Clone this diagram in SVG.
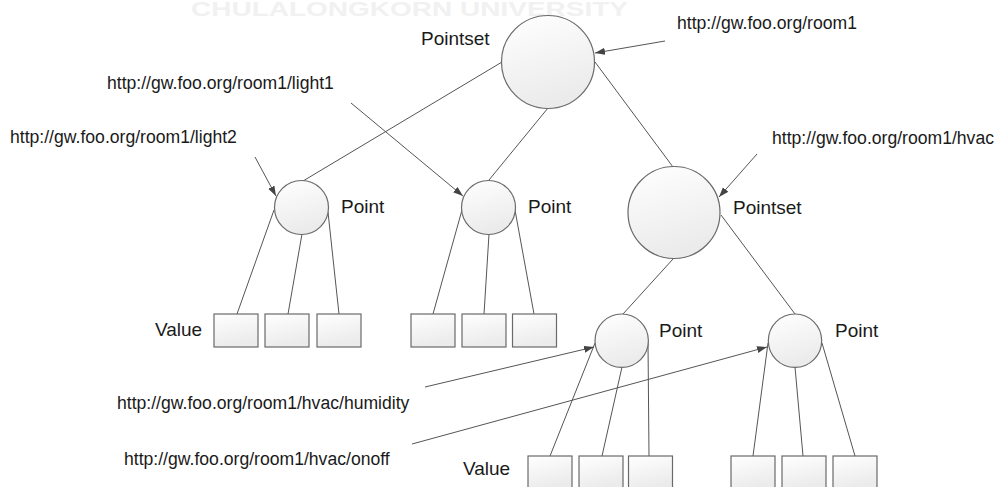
<svg xmlns="http://www.w3.org/2000/svg" width="1004" height="487" viewBox="0 0 1004 487">
<style>
.lbl{font-family:"Liberation Sans",Arial,sans-serif;font-size:19px;fill:#1a1a1a}
.url{font-family:"Liberation Sans",Arial,sans-serif;font-size:17.6px;fill:#1a1a1a}
.wm{font-family:"Liberation Sans",Arial,sans-serif;font-size:20px;font-weight:bold;fill:#f1f1f1}
.node{fill:url(#g);stroke:#6a6a6a;stroke-width:1.2}
.edge{stroke:#555;stroke-width:1;fill:none}
.arr{stroke:#555;stroke-width:1;fill:none;marker-end:url(#ah)}
</style>
<defs>
<linearGradient id="g" x1="0" y1="0" x2="0.3" y2="1">
<stop offset="0" stop-color="#ffffff"/>
<stop offset="1" stop-color="#ebebeb"/>
</linearGradient>
<marker id="ah" markerWidth="11" markerHeight="8" refX="10" refY="3.5" orient="auto" markerUnits="userSpaceOnUse">
<path d="M0,0 L10,3.5 L0,7 z" fill="#444"/>
</marker>
</defs>
<rect width="1004" height="487" fill="#fff"/>
<text class="wm" x="191" y="16" textLength="437" lengthAdjust="spacingAndGlyphs">CHULALONGKORN UNIVERSITY</text>

<g id="connectors">
<line class="edge" x1="502" y1="62" x2="303" y2="181"/>
<line class="edge" x1="548" y1="108" x2="489" y2="180"/>
<line class="edge" x1="595" y1="62" x2="673" y2="167"/>
<line class="edge" x1="673" y1="259" x2="623" y2="314"/>
<line class="edge" x1="721" y1="215" x2="795" y2="314"/>
<line class="edge" x1="274" y1="210" x2="237" y2="314"/>
<line class="edge" x1="302" y1="234" x2="288" y2="314"/>
<line class="edge" x1="328" y1="212" x2="339" y2="314"/>
<line class="edge" x1="462" y1="210" x2="433" y2="314"/>
<line class="edge" x1="489" y1="234" x2="484" y2="314"/>
<line class="edge" x1="515" y1="210" x2="534" y2="314"/>
<line class="edge" x1="595" y1="343" x2="550" y2="456"/>
<line class="edge" x1="622" y1="367" x2="602" y2="456"/>
<line class="edge" x1="648" y1="343" x2="649" y2="456"/>
<line class="edge" x1="768" y1="343" x2="753" y2="456"/>
<line class="edge" x1="795" y1="367" x2="803" y2="456"/>
<line class="edge" x1="822" y1="343" x2="855" y2="456"/>
<line class="arr" x1="665" y1="41" x2="595" y2="53"/>
<line class="arr" x1="757" y1="154" x2="719" y2="197"/>
<line class="arr" x1="255" y1="157" x2="276" y2="196"/>
<line class="arr" x1="351" y1="103" x2="463" y2="196"/>
<line class="arr" x1="425" y1="387" x2="594" y2="347"/>
<line class="arr" x1="412" y1="444" x2="767" y2="347"/>
</g>

<g id="pointset-room1">
<circle class="node" cx="548" cy="62" r="46.5"/>
<text class="lbl" x="421" y="45">Pointset</text>
<text class="url" x="677" y="29">http://gw.foo.org/room1</text>
</g>
<g id="point-light2">
<circle class="node" cx="301.5" cy="207.5" r="27"/>
<text class="lbl" x="341" y="213">Point</text>
<text class="url" x="10" y="143">http://gw.foo.org/room1/light2</text>
</g>
<g id="point-light1">
<circle class="node" cx="488.5" cy="207.5" r="27"/>
<text class="lbl" x="528" y="213">Point</text>
<text class="url" x="107" y="89">http://gw.foo.org/room1/light1</text>
</g>
<g id="pointset-hvac">
<circle class="node" cx="674" cy="212.5" r="46"/>
<text class="lbl" x="733" y="214">Pointset</text>
<text class="url" x="772" y="144">http://gw.foo.org/room1/hvac</text>
</g>
<g id="point-humidity">
<circle class="node" cx="621.7" cy="340.7" r="26.7"/>
<text class="lbl" x="659" y="337">Point</text>
<text class="url" x="117" y="409">http://gw.foo.org/room1/hvac/humidity</text>
</g>
<g id="point-onoff">
<circle class="node" cx="795" cy="340.7" r="26.7"/>
<text class="lbl" x="835" y="337">Point</text>
<text class="url" x="124" y="465">http://gw.foo.org/room1/hvac/onoff</text>
</g>
<g id="values-light2">
<text class="lbl" x="155" y="336">Value</text>
<rect class="node" x="214" y="314" width="44" height="33"/>
<rect class="node" x="265" y="314" width="44" height="33"/>
<rect class="node" x="317" y="314" width="44" height="33"/>
</g>
<g id="values-light1">
<rect class="node" x="411" y="314" width="44" height="33"/>
<rect class="node" x="462" y="314" width="44" height="33"/>
<rect class="node" x="512.5" y="314" width="44" height="33"/>
</g>
<g id="values-humidity">
<text class="lbl" x="463" y="475">Value</text>
<rect class="node" x="528" y="456" width="44" height="33"/>
<rect class="node" x="579" y="456" width="44" height="33"/>
<rect class="node" x="628.5" y="456" width="44" height="33"/>
</g>
<g id="values-onoff">
<rect class="node" x="731" y="456" width="44" height="33"/>
<rect class="node" x="782" y="456" width="44" height="33"/>
<rect class="node" x="833" y="456" width="44" height="33"/>
</g>
</svg>
